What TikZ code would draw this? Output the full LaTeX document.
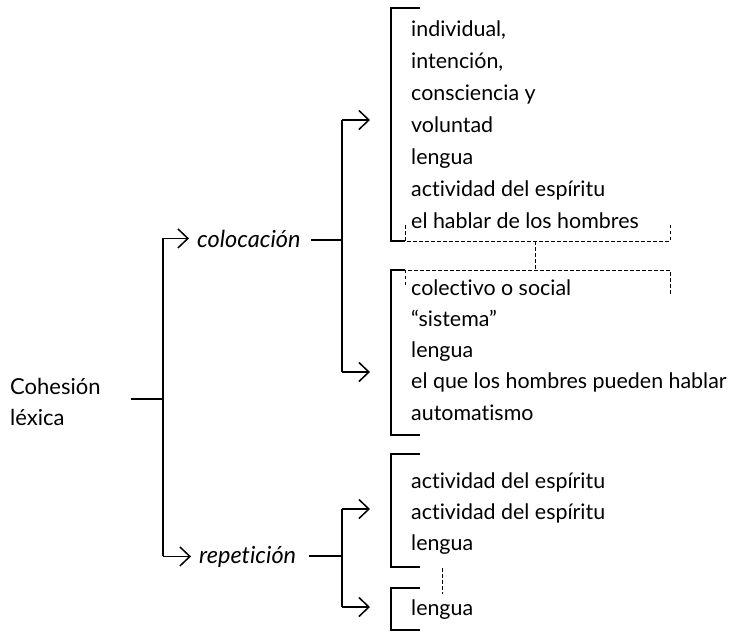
\documentclass[tikz,border=0pt]{standalone}
\usepackage{fontspec}
\setmainfont{Lato}[Ligatures=NoCommon]
\usetikzlibrary{arrows.meta}

\tikzset{
  trunk/.style={line width=1.7pt},
  branch/.style={trunk, -{Straight Barb[length=10pt,width=19pt,line width=1.5pt]}},
  bracket/.style={line width=1.2pt},
  link/.style={line width=0.9pt, dash pattern=on 3.5pt off 2.5pt},
  item/.style={anchor=base west, inner sep=0pt, font=\fontsize{21.4}{24}\selectfont},
  label/.style={anchor=base west, inner sep=0pt, font=\fontsize{23.5}{24}\selectfont\itshape},
  root/.style={anchor=west, inner sep=0pt, align=left, font=\fontsize{22}{31}\selectfont},
}

\begin{document}
\begin{tikzpicture}[x=1pt,y=-1pt]
  \useasboundingbox (0,0) rectangle (735,633);

  % Root and first split
  \node[root] (cohesion) at (10,402) {Cohesión\\léxica};
  \coordinate (c0) at (131,399);
  \coordinate (j0) at (163,399);
  \node[label] (colocacion) at (197,247) {colocación};
  \node[label] (repeticion) at (199,563) {repetición};

  \draw[trunk] (c0) -- (j0);
  \draw[trunk] (colocacion.west -| j0) -- (repeticion.west -| j0);
  \draw[branch] (colocacion.west -| j0) -- ([xshift=-8pt]colocacion.west);
  \draw[branch] (repeticion.west -| j0) -- ([xshift=-8pt]repeticion.west);

  % Second split
  \coordinate (k1) at (342,240);
  \coordinate (k2) at (342,556);
  \coordinate (ta) at (370,120);
  \coordinate (tb) at (370,372);
  \coordinate (tc) at (370,509);
  \coordinate (td) at (370,607);

  \draw[trunk] ([xshift=10pt]colocacion.east |- k1) -- (k1);
  \draw[trunk] ([xshift=13pt]repeticion.east |- k2) -- (k2);
  \draw[trunk] (k1 |- ta) -- (k1 |- tb);
  \draw[trunk] (k2 |- tc) -- (k2 |- td);
  \foreach \t in {ta,tb,tc,td}{
    \draw[branch] (k1 |- \t) -- (\t);
  }

  % Lists
  \foreach \t [count=\i] in {{individual,},{intención,},{consciencia y},{voluntad},{lengua},{actividad del espíritu},{el hablar de los hombres}}{
    \node[item] (a\i) at (411,{36+32*(\i-1)}) {\t};
  }
  \foreach \t [count=\i] in {{colectivo o social},{“sistema”},{lengua},{el que los hombres pueden hablar},{automatismo}}{
    \node[item] (b\i) at (411,{295+31.3*(\i-1)}) {\t};
  }
  \foreach \t [count=\i] in {{actividad del espíritu},{actividad del espíritu},{lengua}}{
    \node[item] (c\i) at (411,{488+31*(\i-1)}) {\t};
  }
  \node[item] (d1) at (411,615) {lengua};

  % Brackets
  \draw[bracket] (420,8) -- (391,8) -- (391,241) -- (405,241);
  \draw[bracket] (405,270) -- (391,270) -- (391,435) -- (420,435);
  \draw[bracket] (420,454) -- (391,454) -- (391,567) -- (420,567);
  \draw[bracket] (420,588) -- (391,588) -- (391,630) -- (420,630);

  % Dashed links
  \draw[link] (405,225) -- (405,241) -- (670,241) -- (670,223);
  \draw[link] (405,285) -- (405,270) -- (670,270) -- (670,295);
  \draw[link] (535,241) -- (535,270);
  \draw[link] (442,568) -- (442,594);
\end{tikzpicture}
\end{document}
